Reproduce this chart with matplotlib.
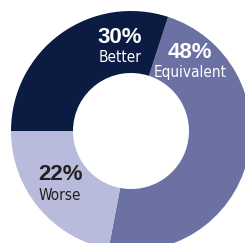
import matplotlib
matplotlib.use('Agg')
import matplotlib.pyplot as plt
from matplotlib import font_manager

labels = ['Equivalent', 'Worse', 'Better']
values = [48, 22, 30]
colors = ['#6b72a3', '#b8bbdb', '#0b1b42']
text_colors = ['white', '#231f20', 'white']
# label anchor (x, y) in pixel space, y measured upward
label_pos = [(190, 190), (60, 68), (120, 205)]

# look for a condensed sans face for the category names
narrow_font = None
for f in font_manager.fontManager.ttflist:
    if f.name in ('Liberation Sans Narrow', 'Arial Narrow') and f.weight in (400, 'normal', 'regular'):
        narrow_font = dict(family=f.name, fontsize=12.5)
        break
if narrow_font is None:
    for f in font_manager.fontManager.ttflist:
        if f.name == 'DejaVu Sans' and f.stretch == 'condensed' and f.weight in (400, 'normal'):
            narrow_font = dict(family='DejaVu Sans', fontstretch='condensed', fontsize=11)
            break
if narrow_font is None:
    narrow_font = dict(family='Liberation Sans', fontsize=11)

fig = plt.figure(figsize=(2.45, 2.43), dpi=100)
ax = fig.add_axes([0, 0, 1, 1])

ax.pie(values, colors=colors, startangle=72, counterclock=False,
       center=(131, 112), radius=120,
       wedgeprops=dict(width=62, linewidth=0))
ax.set_xlim(0, 245)
ax.set_ylim(0, 243)
ax.set_aspect('equal')
ax.axis('off')

for lab, v, c, (x, y) in zip(labels, values, text_colors, label_pos):
    ax.text(x, y, f'{v}%', ha='center', va='center', color=c,
            fontsize=16, fontweight='heavy', family=['Liberation Sans', 'DejaVu Sans'])
    ax.text(x, y - 20, lab, ha='center', va='center', color=c, **narrow_font)

fig.savefig('out.png', dpi=100)
